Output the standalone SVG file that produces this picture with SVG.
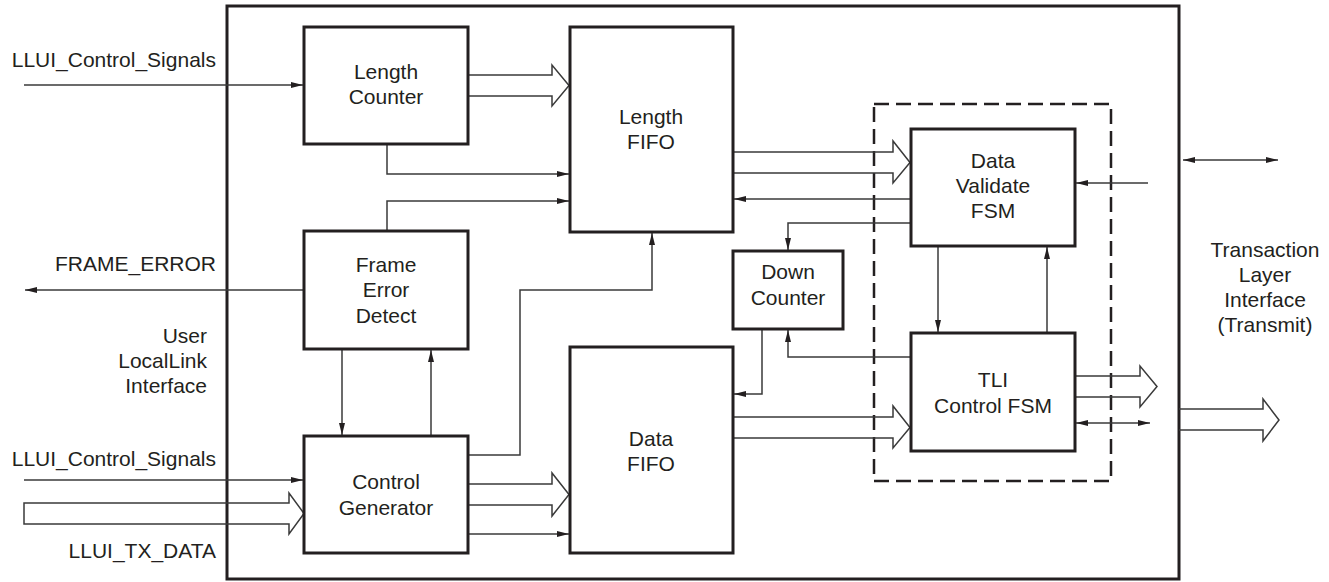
<svg xmlns="http://www.w3.org/2000/svg" width="1329" height="582" viewBox="0 0 1329 582">
<style>
.box{fill:none;stroke:#231f20;stroke-width:3}
.dash{fill:none;stroke:#231f20;stroke-width:2.5;stroke-dasharray:15 7}
.ln{fill:none;stroke:#3a3a3a;stroke-width:1.5}
.hl{fill:none;stroke:#3a3a3a;stroke-width:1.5;stroke-linejoin:miter}
.a{marker-end:url(#ah)}
.d{marker-start:url(#ahs);marker-end:url(#ah)}
text{font-family:"Liberation Sans",Arial,sans-serif;font-size:21px;fill:#231f20}
.c{text-anchor:middle}
.r{text-anchor:end}
</style>
<defs>
<marker id="ah" markerUnits="userSpaceOnUse" markerWidth="13" markerHeight="8" refX="12" refY="4" orient="auto"><path d="M0,1 L12,4 L0,7 z" fill="#231f20"/></marker>
<marker id="ahs" markerUnits="userSpaceOnUse" markerWidth="13" markerHeight="8" refX="12" refY="4" orient="auto-start-reverse"><path d="M0,1 L12,4 L0,7 z" fill="#231f20"/></marker>
</defs>
<rect id="outer" class="box" x="227" y="6" width="952" height="573"/>
<rect id="fsm-group" class="dash" x="874" y="104" width="237" height="377"/>
<g id="connectors">
<path class="ln a" d="M24,85 H303"/>
<path class="hl" d="M468,75 H552 V65 L569,85.5 L552,106 V96 H468"/>
<path class="ln a" d="M387,144 V174 H569"/>
<path class="ln a" d="M387,231 V201 H569"/>
<path class="ln a" d="M304,290 H25"/>
<path class="ln a" d="M342,349 V435"/>
<path class="ln a" d="M431,436 V350"/>
<path class="ln a" d="M24,480 H303"/>
<path class="hl" d="M24,503 H289 V493 L304,513.5 L289,534 V524 H24 Z"/>
<path class="ln a" d="M468,455 H520 V290 H652 V233"/>
<path class="hl" d="M468,484 H552 V473 L569,494.5 L552,516 V505 H468"/>
<path class="ln a" d="M468,534 H569"/>
<path class="hl" d="M733,152 H893 V141 L910,162.5 L893,183 V173 H733"/>
<path class="ln a" d="M911,199 H734"/>
<path class="ln a" d="M911,223 H788 V250"/>
<path class="ln a" d="M1148,183 H1076"/>
<path class="ln a" d="M938,246 V332"/>
<path class="ln a" d="M1047,333 V247"/>
<path class="ln a" d="M911,357 H788 V330"/>
<path class="ln a" d="M762,329 V394 H734"/>
<path class="hl" d="M733,417 H893 V406 L910,427.5 L893,448 V438 H733"/>
<path class="hl" d="M1075,376 H1140 V366 L1157,386.5 L1140,407 V397 H1075"/>
<path class="ln d" d="M1076,423 H1150"/>
<path class="ln d" d="M1183,160 H1278"/>
<path class="hl" d="M1179,409 H1263 V399 L1279,420 L1263,441 V430 H1179"/>
</g>
<g id="length-counter"><rect class="box" x="304" y="27" width="164" height="117"/><text class="c" x="386" y="79">Length</text><text class="c" x="386" y="104">Counter</text></g>
<g id="length-fifo"><rect class="box" x="570" y="27" width="163" height="205"/><text class="c" x="651" y="124">Length</text><text class="c" x="651" y="149">FIFO</text></g>
<g id="frame-error-detect"><rect class="box" x="304" y="231" width="164" height="118"/><text class="c" x="386" y="272">Frame</text><text class="c" x="386" y="297">Error</text><text class="c" x="386" y="323">Detect</text></g>
<g id="control-generator"><rect class="box" x="304" y="436" width="164" height="117"/><text class="c" x="386" y="489">Control</text><text class="c" x="386" y="515">Generator</text></g>
<g id="data-fifo"><rect class="box" x="570" y="347" width="163" height="206"/><text class="c" x="651" y="446">Data</text><text class="c" x="651" y="471">FIFO</text></g>
<g id="down-counter"><rect class="box" x="733" y="251" width="110" height="78"/><text class="c" x="788" y="279">Down</text><text class="c" x="788" y="305">Counter</text></g>
<g id="data-validate-fsm"><rect class="box" x="911" y="129" width="164" height="117"/><text class="c" x="993" y="168">Data</text><text class="c" x="993" y="193">Validate</text><text class="c" x="993" y="218">FSM</text></g>
<g id="tli-control-fsm"><rect class="box" x="911" y="333" width="164" height="118"/><text class="c" x="993" y="387">TLI</text><text class="c" x="993" y="413">Control FSM</text></g>
<g id="labels">
<text class="r" x="216" y="67">LLUI_Control_Signals</text>
<text class="r" x="216" y="271">FRAME_ERROR</text>
<text class="r" x="207" y="343">User</text>
<text class="r" x="207" y="368">LocalLink</text>
<text class="r" x="207" y="393">Interface</text>
<text class="r" x="216" y="466">LLUI_Control_Signals</text>
<text class="r" x="216" y="558">LLUI_TX_DATA</text>
<text class="c" x="1265" y="257">Transaction</text>
<text class="c" x="1265" y="282">Layer</text>
<text class="c" x="1265" y="307">Interface</text>
<text class="c" x="1265" y="332">(Transmit)</text>
</g>
</svg>
